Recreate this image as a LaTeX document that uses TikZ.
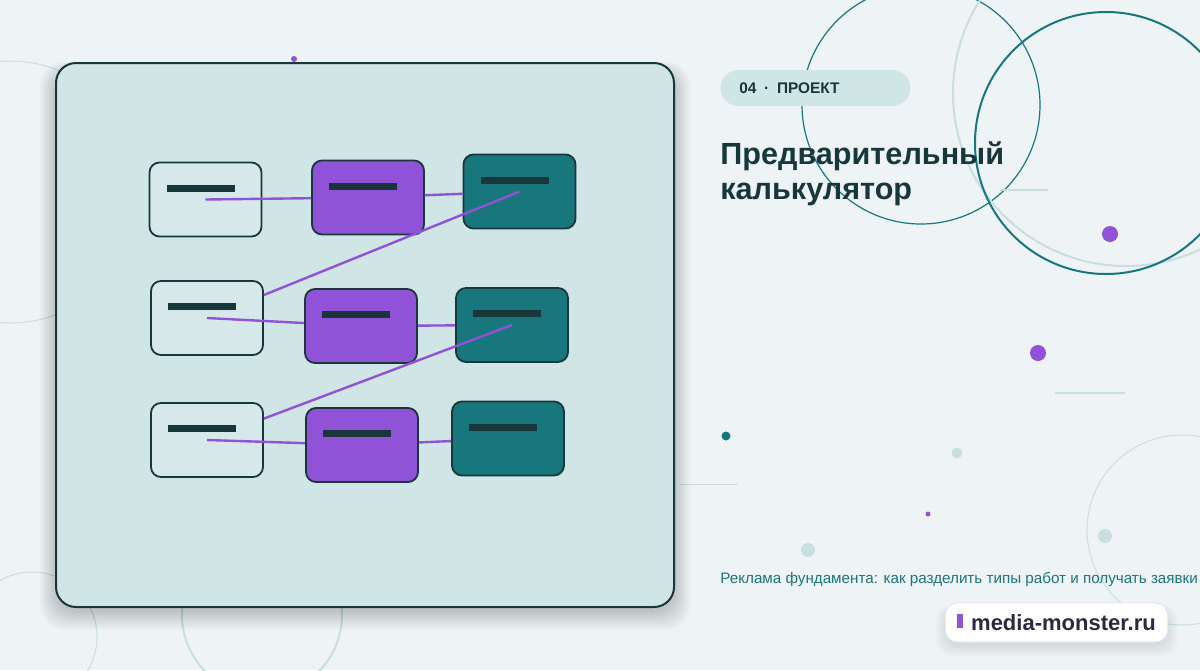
\documentclass[tikz,border=0pt]{standalone}
\usepackage{fontspec}
\setmainfont{Liberation Sans}
\usetikzlibrary{positioning}
\definecolor{bgc}{HTML}{EEF4F5}
\definecolor{panelc}{HTML}{CFE5E6}
\definecolor{inkc}{HTML}{17373B}
\definecolor{purc}{HTML}{9052D6}
\definecolor{tealc}{HTML}{18777C}
\definecolor{paperc}{HTML}{D6E8E9}
\definecolor{mistc}{HTML}{C8DEDF}
\definecolor{subc}{HTML}{1F7479}
\definecolor{badgec}{HTML}{2A2A42}
\tikzset{
  blk/.style={draw=inkc,line width=0.9pt,rounded corners=5pt,minimum width=56pt,minimum height=37pt,inner sep=0pt,
    path picture={\fill[inkc,sharp corners] ([xshift=8.5pt,yshift=-11pt]path picture bounding box.north west) rectangle ++(34pt,-3.5pt);}},
  inbox/.style={blk,fill=paperc},
  midbox/.style={blk,fill=purc},
  outbox/.style={blk,fill=tealc},
  wire/.style={purc,line width=1.2pt},
  ring/.style={tealc,line width=1pt},
  haze/.style={mistc,line width=1pt},
  soft/.style={black,opacity=0.008,rounded corners=12pt}
}
\begin{document}
\begin{tikzpicture}[x=0.5pt,y=-0.5pt]
\fill[bgc] (0,0) rectangle (1200,670);
\useasboundingbox (0,0) rectangle (1200,670);
% background rings
\draw[haze,line width=0.5pt] (10,192) circle (131);
\draw[haze,line width=0.5pt] (32,637) circle (65);
\draw[haze] (262,615) circle (80);
\draw[ring,line width=0.6pt] (921,105) circle (119);
\draw[haze] (1126,93) circle (173);
\draw[ring] (1106,143) circle (131);
\draw[haze,line width=0.5pt] (1182,530) circle (95);
\draw[haze] (1000,190) -- (1048,190);
\draw[haze] (1055,393) -- (1125,393);
\draw[haze,line width=0.5pt] (680,484) -- (738,484);
% dots
\fill[purc] (1110,234) circle (8);
\fill[purc] (1038,353) circle (8);
\fill[tealc] (726,436) circle (4.5);
\fill[mistc] (957,453) circle (5.5);
\fill[purc] (928,514) circle (2.5);
\fill[mistc] (808,550) circle (7);
\fill[mistc] (1105,536) circle (7);
\fill[purc] (294,59) circle (3);
% panel with soft shadow
\foreach \k in {1,...,24}
  \fill[soft] (56-\k*0.7,63-\k*0.4+8) rectangle (674+\k*0.7,607+\k*0.8+4);
\draw[inkc,line width=1pt,fill=panelc,rounded corners=10pt] (56,63) rectangle (674,607);
% blocks
\node[inbox] (w1) at (205.5,199.5) {};
\node[midbox] (p1) at (368,197.5) {};
\node[outbox] (t1) at (519.5,191.5) {};
\node[inbox] (w2) at (207,318) {};
\node[midbox] (p2) at (361,326) {};
\node[outbox] (t2) at (512,325) {};
\node[inbox] (w3) at (207,440) {};
\node[midbox] (p3) at (362,445) {};
\node[outbox] (t3) at (508,438.5) {};
% wires
\draw[wire] (w1.center) -- (p1);
\draw[wire] (w2.center) -- (p2);
\draw[wire] (w3.center) -- (p3);
\draw[wire] (p1) -- (t1);
\draw[wire] (p2) -- (t2);
\draw[wire] (p3) -- (t3);
\draw[wire] (w2) -- (t1.center);
\draw[wire] (w3) -- (t2.center);
% text side
\node[anchor=west,fill=panelc,rounded corners=9pt,minimum height=18pt,text width=76pt,inner xsep=9.5pt,
  font=\fontsize{7.7pt}{9pt}\selectfont\bfseries,text=inkc] (tag) at (720,88) {04\enspace·\enspace ПРОЕКТ};
\node[anchor=north west,inner sep=0pt,align=left,text=inkc,
  font=\fontsize{15.3pt}{17.5pt}\selectfont\bfseries] (title) at (720,141) {Предварительный\\калькулятор};
\node[anchor=base west,inner sep=0pt,text=subc,font=\fontsize{7.6pt}{9pt}\selectfont] (sub) at (720,583)
  {Реклама фундамента: как разделить типы работ и получать заявки};
% site badge
\foreach \k in {1,...,12}
  \fill[soft,rounded corners=8pt] (947-\k,603-\k*0.3+5) rectangle (1166+\k,642+\k+3);
\node[draw=mistc!70!purc!40,fill=white,rounded corners=6pt,minimum width=109.5pt,minimum height=19.5pt,
  inner xsep=6pt,text=badgec,font=\fontsize{11pt}{13pt}\selectfont\bfseries] (site) at (1056.5,622.5)
  {\textcolor{purc}{\raisebox{1pt}{\rule{3pt}{7pt}}}\hspace{4pt}media-monster.ru};
\end{tikzpicture}
\end{document}
